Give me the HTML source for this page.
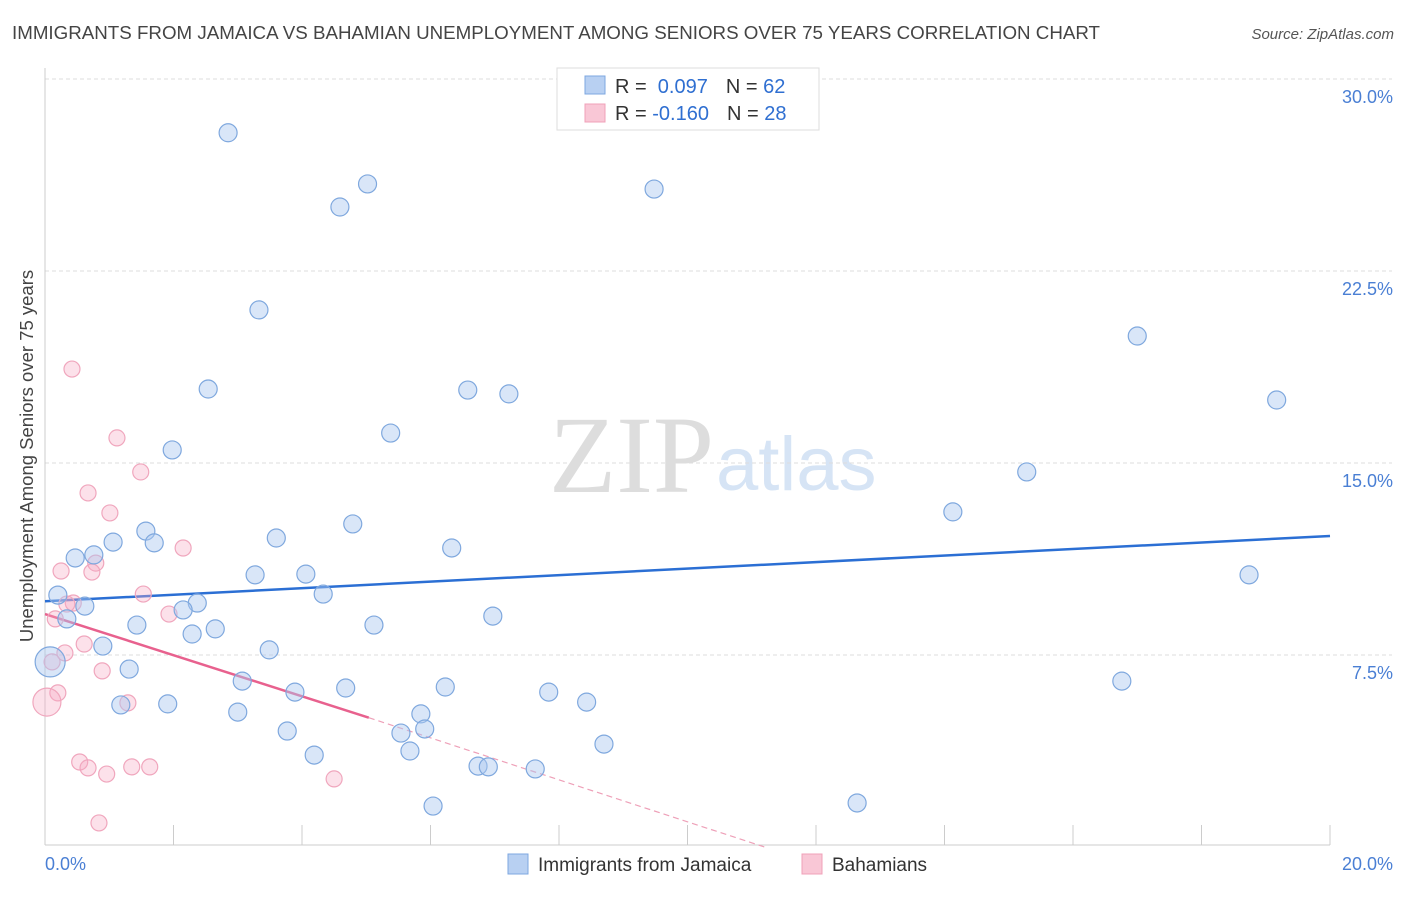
<!DOCTYPE html>
<html><head><meta charset="utf-8"><style>
body{margin:0;background:#fff;font-family:"Liberation Sans",sans-serif;}
</style></head><body>
<svg id="chart" width="1406" height="892" xmlns="http://www.w3.org/2000/svg" font-family="Liberation Sans, sans-serif">
<text x="12" y="39" font-size="18" fill="#444" textLength="1088" lengthAdjust="spacingAndGlyphs">IMMIGRANTS FROM JAMAICA VS BAHAMIAN UNEMPLOYMENT AMONG SENIORS OVER 75 YEARS CORRELATION CHART</text>
<text x="1394" y="39" font-size="15" fill="#555" text-anchor="end" font-style="italic">Source: ZipAtlas.com</text>
<text x="714" y="492" font-size="110" fill="#ddd" text-anchor="end" font-family="Liberation Serif, serif">ZIP</text>
<text x="716" y="490" font-size="76" fill="#d6e4f5">atlas</text>
<g id="grid"></g><g id="axes"></g><g id="trend"></g><g id="pts"></g>
<text transform="translate(33,456) rotate(-90)" font-size="18.5" fill="#444" text-anchor="middle">Unemployment Among Seniors over 75 years</text>
<g>
<rect x="557" y="68" width="262" height="62" fill="#fff" stroke="#ddd"/>
<rect x="585" y="76" width="20" height="18" fill="#b8d0f2" stroke="#7ea7e0"/>
<rect x="585" y="104" width="20" height="18" fill="#f9c7d6" stroke="#f0a0b8"/>
<text x="615" y="93" font-size="20" fill="#333">R = <tspan fill="#2f6fd1">&#160;0.097</tspan><tspan dx="18">N = </tspan><tspan fill="#2f6fd1">62</tspan></text>
<text x="615" y="120" font-size="20" fill="#333">R = <tspan fill="#2f6fd1">-0.160</tspan><tspan dx="18">N = </tspan><tspan fill="#2f6fd1">28</tspan></text>
</g>
<g>
<rect x="508" y="854" width="20" height="20" fill="#b8d0f2" stroke="#7ea7e0"/>
<text x="538" y="871" font-size="19" fill="#333">Immigrants from Jamaica</text>
<rect x="802" y="854" width="20" height="20" fill="#f9c7d6" stroke="#f0a0b8"/>
<text x="832" y="871" font-size="19" fill="#333">Bahamians</text>
</g>
</svg>
<script>
const yTicks=[7.5,15,22.5,30];
const yTickLabels=["7.5%","15.0%","22.5%","30.0%"];
const xTickLabels=["0.0%","20.0%"];
const blueX=[2.85,5.02,4.59,9.48,3.33,2.54,6.58,7.22,5.38,1.98,17.0,19.17,15.28,14.13,4.79,1.57,1.06,1.70,3.60,6.33,0.47,0.76,3.27,4.06,18.74,0.20,0.62,4.33,2.37,2.15,0.34,1.43,6.97,5.12,2.29,2.65,0.90,3.49,0.08,1.31,3.07,3.89,4.68,6.23,7.84,8.43,16.76,1.18,1.91,3.0,5.85,3.77,5.54,5.91,8.70,5.68,4.19,6.74,6.90,7.63,6.04,12.64];
const blueY=[27.9,25.9,25.0,25.7,20.98,17.89,17.85,17.7,16.17,15.51,19.96,17.46,14.65,13.09,12.62,12.34,11.91,11.88,12.07,11.68,11.29,11.41,10.63,10.66,10.63,9.84,9.41,9.88,9.53,9.26,8.91,8.67,9.02,8.67,8.32,8.52,7.85,7.7,7.23,6.95,6.48,6.05,6.21,6.25,6.05,5.66,6.48,5.55,5.59,5.27,5.2,4.53,4.45,4.61,4.02,3.75,3.59,3.16,3.13,3.05,1.6,1.72];
const blueR=[9,9,9,9,9,9,9,9,9,9,9,9,9,9,9,9,9,9,9,9,9,9,9,9,9,9,9,9,9,9,9,9,9,9,9,9,9,9,15,9,9,9,9,9,9,9,9,9,9,9,9,9,9,9,9,9,9,9,9,9,9,9];
const pinkX=[0.42,1.12,1.49,0.67,1.01,2.15,0.25,0.79,0.73,1.53,0.44,0.34,1.93,0.16,0.61,0.31,0.11,0.89,0.20,1.29,0.03,0.54,0.67,0.96,1.35,1.63,4.5,0.84];
const pinkY=[18.67,15.98,14.65,13.83,13.05,11.68,10.78,11.09,10.74,9.88,9.53,9.49,9.1,8.91,7.93,7.58,7.23,6.88,6.02,5.63,5.66,3.32,3.09,2.85,3.13,3.13,2.66,0.94];
const pinkR=[8,8,8,8,8,8,8,8,8,8,8,8,8,8,8,8,8,8,8,8,14,8,8,8,8,8,8,8];
const blueTrend=[9.6,12.15];
const pinkTrend=[9.1,5.05,0];
const pinkTrendX=[0,5.04,11.2];
const NS="http://www.w3.org/2000/svg";
const xs=v=>45+v/20*1285, ys=v=>847-v*25.6;
function mk(t,a,p){const e=document.createElementNS(NS,t);for(const k in a)e.setAttribute(k,a[k]);p.appendChild(e);return e;}
const grid=document.getElementById('grid'),axes=document.getElementById('axes');
yTicks.forEach((t,i)=>{const l=mk('line',{x1:45,x2:1392,y1:ys(t),y2:ys(t),stroke:'#ddd','stroke-dasharray':'4,3'},grid);

const tx=mk('text',{x:1393,y:ys(t)+24,'font-size':18,fill:'#4a7fd4','text-anchor':'end'},axes);tx.textContent=yTickLabels[i];
});
let a=mk('line',{x1:45,x2:45,y1:68,y2:845,stroke:'#ccc'},axes);
a=mk('line',{x1:45,x2:1330,y1:845,y2:845,stroke:'#ccc'},axes);
for(let i=0;i<=10;i++){const t=mk('line',{x1:xs(i*2),x2:xs(i*2),y1:825,y2:845,stroke:'#ccc'},axes);}
[[0,'start',45],[20,'end',1393]].forEach((d,i)=>{const tx=mk('text',{x:d[2],y:870,'font-size':18,fill:'#4a7fd4','text-anchor':d[1]},axes);tx.textContent=xTickLabels[i];});
const pts=document.getElementById('pts');
pinkX.forEach((x,i)=>{const c=mk('circle',{cx:xs(x),cy:ys(pinkY[i]),r:pinkR[i],fill:'rgba(246,170,195,0.35)',stroke:'#f0a6bd','stroke-width':1.2},pts);});
blueX.forEach((x,i)=>{const c=mk('circle',{cx:xs(x),cy:ys(blueY[i]),r:blueR[i],fill:'rgba(170,200,240,0.45)',stroke:'#7fa8de','stroke-width':1.2},pts);});
const tr=document.getElementById('trend');
let l=mk('line',{x1:xs(0),y1:ys(blueTrend[0]),x2:xs(20),y2:ys(blueTrend[1]),stroke:'#2b6fd4','stroke-width':2.5},tr);
l=mk('line',{x1:xs(pinkTrendX[0]),y1:ys(pinkTrend[0]),x2:xs(pinkTrendX[1]),y2:ys(pinkTrend[1]),stroke:'#e8618e','stroke-width':2.5},tr);
l=mk('line',{x1:xs(pinkTrendX[1]),y1:ys(pinkTrend[1]),x2:xs(pinkTrendX[2]),y2:ys(pinkTrend[2]),stroke:'#eea0b8','stroke-width':1.2,'stroke-dasharray':'6,4'},tr);
</script>
</body></html>
